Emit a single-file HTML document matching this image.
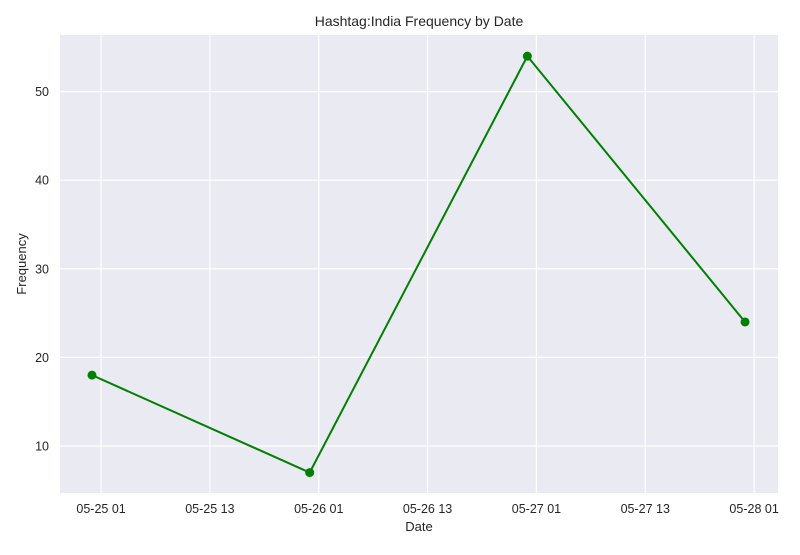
<!DOCTYPE html>
<html><head><meta charset="utf-8"><style>
body{margin:0;background:#fff;}
svg text{font-family:"Liberation Sans",sans-serif;fill:#262626;}
</style></head><body>
<svg id="chart" width="800" height="550" xmlns="http://www.w3.org/2000/svg">
<rect x="60" y="35" width="718" height="458" fill="#eaeaf2"/>
<g id="grid"></g>
<g id="ticks"></g>
<g id="series"></g>
<text x="419" y="26" text-anchor="middle" font-size="14">Hashtag:India Frequency by Date</text>
<text x="419" y="531" text-anchor="middle" font-size="13">Date</text>
<text transform="translate(26,264) rotate(-90)" text-anchor="middle" font-size="13">Frequency</text>
</svg>
<script>
// hours since 05-25 00:00
const dateHours=[0,24,48,72];
const freqValues=[18,7,54,24];
const xTickHours=[1,13,25,37,49,61,73];
const xTickLabels=["05-25 01","05-25 13","05-26 01","05-26 13","05-27 01","05-27 13","05-28 01"];
const yTicks=[10,20,30,40,50];
const NS="http://www.w3.org/2000/svg";
const x=h=>92+h*9.07;
const y=v=>534.6-v*8.86;
function mk(t,a,p){const e=document.createElementNS(NS,t);for(const k in a)e.setAttribute(k,a[k]);p.appendChild(e);return e;}
const grid=document.getElementById('grid'),ticks=document.getElementById('ticks'),series=document.getElementById('series');
xTickHours.forEach((h,i)=>{
 const l=mk('line',{x1:x(h),x2:x(h),y1:35,y2:493,stroke:'#fff','stroke-width':1.2},grid);
 
 
 const t=mk('text',{x:x(h),y:513,'text-anchor':'middle','font-size':12.5},ticks);
 t.textContent=xTickLabels[i];
 
 
});
yTicks.forEach(v=>{
 const l=mk('line',{x1:60,x2:778,y1:y(v),y2:y(v),stroke:'#fff','stroke-width':1.2},grid);
 
 
 const t=mk('text',{x:49,y:y(v)+4.5,'text-anchor':'end','font-size':12.5},ticks);
 t.textContent=v;
 
 
});
const pts=dateHours.map((h,i)=>x(h)+','+y(freqValues[i])).join(' ');
const pl=mk('polyline',{points:pts,fill:'none',stroke:'#008000','stroke-width':2},series);


dateHours.forEach((h,i)=>{
 const c=mk('circle',{cx:x(h),cy:y(freqValues[i]),r:4.5,fill:'#008000'},series);
 
 
});
</script>
</body></html>
